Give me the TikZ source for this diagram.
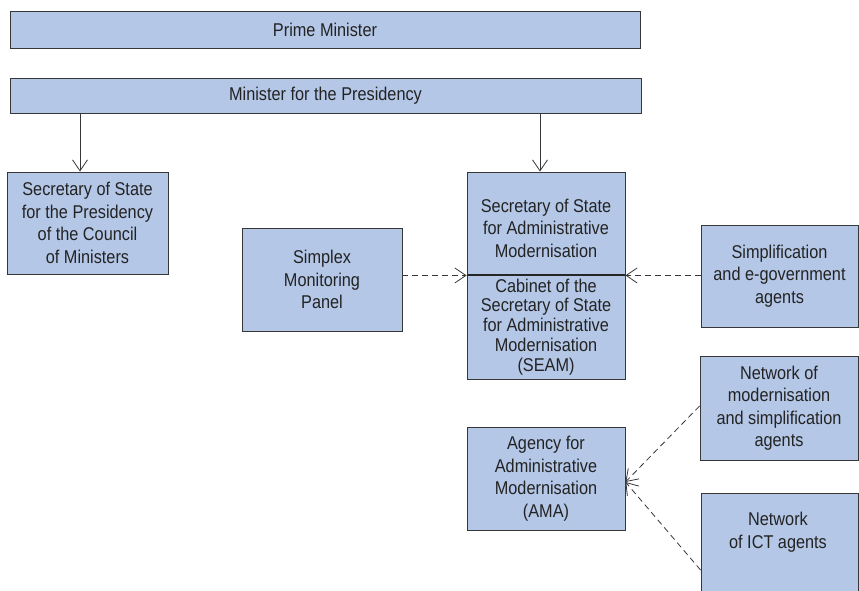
\documentclass[tikz,border=0pt]{standalone}
\usepackage{fontspec}
\setmainfont[FakeStretch=0.88]{Liberation Sans}
\usetikzlibrary{arrows.meta,calc}
\definecolor{boxfill}{RGB}{180,199,231}
\definecolor{boxline}{RGB}{55,55,55}
\definecolor{txt}{RGB}{35,35,35}
\begin{document}
\begin{tikzpicture}[x=1pt,y=-1pt,
  box/.style={draw=boxline,line width=0.9pt,fill=boxfill,rectangle,inner sep=0pt,align=center,
    text=txt,font=\fontsize{18.5}{22.5}\selectfont},
  tightbox/.style={box,font=\fontsize{18.5}{19.8}\selectfont},
  lbl/.style={inner sep=0pt,align=center,text=txt,font=\fontsize{18.5}{22.5}\selectfont},
  arr/.style={draw=boxline,line width=0.8pt,-{Straight Barb[length=11pt,width=15pt]}},
  darr/.style={arr,dashed,dash pattern=on 6pt off 4pt}]
\useasboundingbox (0,0) rectangle (859,591);
\clip (0,0) rectangle (859,591);
\node[box,minimum width=630pt,minimum height=37pt] (pm) at (325,29.5) {Prime Minister};
\node[box,minimum width=631pt,minimum height=35pt] (mp) at (325.5,95.5) {Minister for the Presidency};
\node[box,minimum width=161pt,minimum height=102pt] (ssp) at (87.5,223) {Secretary of State\\for the Presidency\\of the Council\\of Ministers};
\node[box,minimum width=160pt,minimum height=103pt] (simplex) at (322,279.5) {Simplex\\Monitoring\\Panel};
\node[box,minimum width=158pt,minimum height=103pt] (seamtop) at (546,223.5) {};
\node[lbl] (seamtoplabel) at (546,228) {Secretary of State\\for Administrative\\Modernisation};
\node[tightbox,minimum width=158pt,minimum height=104pt] (seambot) at (546,327) {Cabinet of the\\Secretary of State\\for Administrative\\Modernisation\\(SEAM)};
\draw[line width=2pt,draw=black!85] (seamtop.south west) -- (seamtop.south east);
\node[box,minimum width=157pt,minimum height=102pt] (simp) at (779.5,276) {Simplification\\and e-government\\agents};
\node[box,minimum width=158pt,minimum height=104pt] (netmod) at (779,408) {Network of\\modernisation\\and simplification\\agents};
\node[box,minimum width=158pt,minimum height=103pt] (ama) at (546,478.5) {Agency for\\Administrative\\Modernisation\\(AMA)};
\node[box,minimum width=157pt,minimum height=127pt] (ict) at (779.5,556.5) {};
\node[lbl] (ictlabel) at (778,532) {Network\\of ICT agents};
\coordinate (a1) at ([xshift=-7.5pt]ssp.north);
\coordinate (a2) at ([xshift=-6pt]seamtop.north);
\draw[arr] (mp.south -| a1) -- (a1);
\draw[arr] (mp.south -| a2) -- (a2);
\draw[darr] (simplex.east |- seamtop.south west) -- (seamtop.south west);
\draw[darr] (simp.west |- seamtop.south east) -- (seamtop.south east);
\coordinate (amain) at ([yshift=-3.5pt]ama.east);
\draw[darr] ([yshift=2pt]netmod.west) -- (amain);
\coordinate (ictout) at ([yshift=-13.5pt]ict.west);
\draw[darr] (ictout) -- (amain);
\end{tikzpicture}
\end{document}
